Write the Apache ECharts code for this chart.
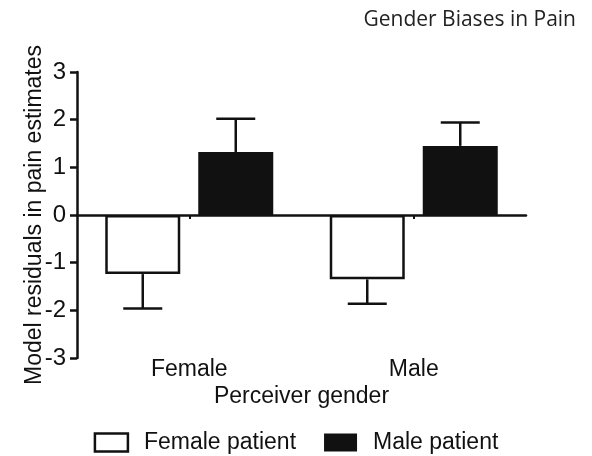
<!DOCTYPE html>
<html>
<head>
<meta charset="utf-8">
<script src="https://cdn.jsdelivr.net/npm/echarts@6/dist/echarts.min.js"></script>
<style>
html,body{margin:0;padding:0;background:#fff;}
#chart{width:592px;height:456px;}
</style>
</head>
<body>
<div id="chart"></div>
<script>
// ---- data ----
const categories = ['Female', 'Male'];
const seriesNames = ['Female patient', 'Male patient'];
const femalePatientMeans = [-1.24, -1.35];
const femalePatientErrors = [0.72, 0.51];
const malePatientMeans = [1.32, 1.45];
const malePatientErrors = [0.70, 0.49];
const yTicks = [-3, -2, -1, 0, 1, 2, 3];

// ---- style constants ----
const INK = '#111';
const FONT = 'Liberation Sans, Arial, sans-serif';
const BAR_W = 75;
const BAR_GAP = 18;
const CAP_HALF = 19.5;
const LW = 2.5;

const chart = echarts.init(document.getElementById('chart'), null, {renderer: 'canvas'});

function errorSeries(name, means, errs, side) {
  const data = means.map((m, i) => [i, m, errs[i]]);
  return {
    type: 'custom',
    name: name,
    xAxisIndex: 0,
    yAxisIndex: 0,
    z: 5,
    silent: true,
    data: data,
    encode: {x: 0, y: 1},
    renderItem: function (params, api) {
      const idx = api.value(0);
      const mean = api.value(1);
      const err = api.value(2);
      const end = mean >= 0 ? mean + err : mean - err;
      const p0 = api.coord([idx, mean]);
      const p1 = api.coord([idx, end]);
      const x = p0[0] + side * (BAR_W / 2 + BAR_GAP / 2);
      const st = {stroke: INK, lineWidth: LW, fill: null};
      return {
        type: 'group',
        children: [
          {type: 'line', shape: {x1: x, y1: p0[1], x2: x, y2: p1[1]}, style: st},
          {type: 'line', shape: {x1: x - CAP_HALF, y1: p1[1], x2: x + CAP_HALF, y2: p1[1]}, style: st}
        ]
      };
    }
  };
}

const option = {
  backgroundColor: '#fff',
  animation: false,
  title: {
    text: 'Gender Biases in Pain',
    right: 11,
    top: 5,
    textStyle: {fontFamily: 'Open Sans, sans-serif', fontSize: 21, fontWeight: 'normal', color: '#222'}
  },
  legend: {
    left: 'center',
    top: 426,
    itemWidth: 33,
    itemHeight: 18,
    itemGap: 28,
    textStyle: {fontFamily: FONT, fontSize: 23, color: INK, padding: [0, 0, 0, 11]},
    data: [
      {name: seriesNames[0], icon: 'rect', itemStyle: {color: '#fff', borderColor: INK, borderWidth: LW}},
      {name: seriesNames[1], icon: 'rect', itemStyle: {color: INK, borderWidth: 0}}
    ]
  },
  grid: {left: 77, right: 66, top: 72, bottom: 98, containLabel: false},
  xAxis: [
    {
      type: 'category',
      data: categories,
      position: 'bottom',
      axisLine: {show: true, onZero: true, lineStyle: {color: INK, width: LW}},
      axisTick: {show: true, alignWithLabel: true, length: 4, lineStyle: {color: INK, width: 2}},
      axisLabel: {show: false},
      splitLine: {show: false}
    },
    {
      type: 'category',
      data: categories,
      position: 'bottom',
      axisLine: {show: false, onZero: false},
      axisTick: {show: false},
      axisLabel: {show: true, margin: 0, fontFamily: FONT, fontSize: 23, color: INK},
      name: 'Perceiver gender',
      nameLocation: 'middle',
      nameGap: 27,
      nameMoveOverlap: false,
      nameTextStyle: {fontFamily: FONT, fontSize: 23, color: INK},
      splitLine: {show: false}
    }
  ],
  yAxis: {
    type: 'value',
    min: yTicks[0],
    max: yTicks[yTicks.length - 1],
    interval: 1,
    name: 'Model residuals in pain estimates',
    nameLocation: 'middle',
    nameGap: 31,
    nameMoveOverlap: false,
    nameTextStyle: {fontFamily: FONT, fontSize: 23, color: INK},
    axisLine: {show: true, lineStyle: {color: INK, width: LW}},
    axisTick: {show: true, length: 7, lineStyle: {color: INK, width: LW}},
    axisLabel: {margin: 11, fontFamily: FONT, fontSize: 24, color: INK},
    splitLine: {show: false}
  },
  series: [
    {
      type: 'bar',
      name: seriesNames[0],
      data: femalePatientMeans,
      barWidth: BAR_W,
      barGap: (BAR_GAP / BAR_W * 100) + '%',
      itemStyle: {color: '#fff', borderColor: INK, borderWidth: LW},
      z: 2
    },
    {
      type: 'bar',
      name: seriesNames[1],
      data: malePatientMeans,
      barWidth: BAR_W,
      barGap: (BAR_GAP / BAR_W * 100) + '%',
      itemStyle: {color: INK, borderColor: INK, borderWidth: 0},
      z: 2
    },
    errorSeries('errFemale', femalePatientMeans, femalePatientErrors, -1),
    errorSeries('errMale', malePatientMeans, malePatientErrors, 1)
  ]
};
chart.setOption(option);
</script>
</body>
</html>
